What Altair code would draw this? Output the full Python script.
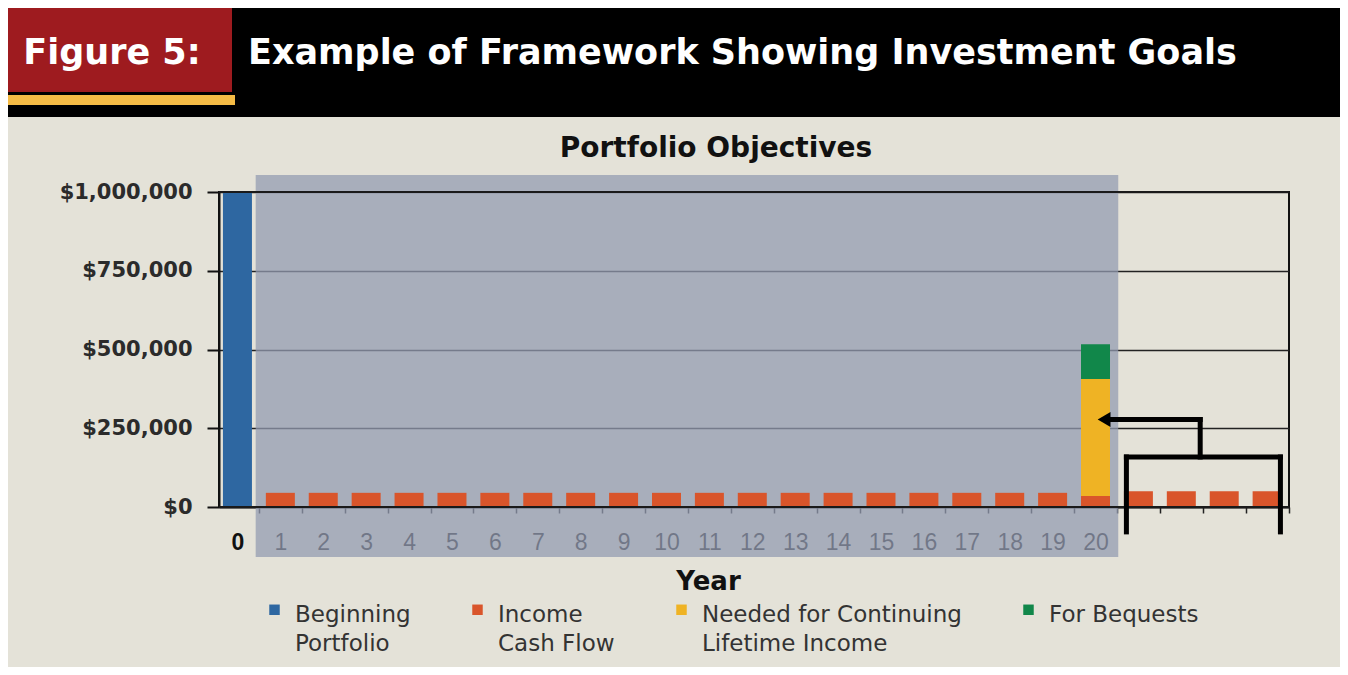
import altair as alt
import pandas as pd

# ---------------- data ----------------
years = list(range(25))
beginning_portfolio = [1000000] + [0] * 24
income_cash_flow = [0] + [45000] * 19 + [35000] + [50000] * 4
needed_lifetime_income = [0] * 20 + [371000] + [0] * 4
for_bequests = [0] * 20 + [111000] + [0] * 4

series_names = ["Beginning|Portfolio", "Income|Cash Flow",
                "Needed for Continuing|Lifetime Income", "For Bequests| "]
series_colors = ["#2e67a1", "#d9552b", "#efb324", "#11874a"]

y_ticks = [0, 250000, 500000, 750000, 1000000]
last_labelled_year = 20

shade_period = [0.425, 20.53]        # shaded working period (years 1-20)
bracket_years = [20.72, 24.31]       # bracket over years 21-24
bracket_mid_year = 22.44
bracket_low, bracket_high = -79000, 158700
arrow_level = 277800
arrow_end_year = 20.3
arrow_tip_year = 20.2

header_label = "Figure 5:"
header_title = "Example of Framework Showing Investment Goals"
chart_title = "Portfolio Objectives"

# ---------------- layout ----------------
W, H = 1070, 315
X_DOMAIN = [-0.43, 24.51]
STEP = W / (X_DOMAIN[1] - X_DOMAIN[0])
FONT = "DejaVu Sans"

rows = []
for i, yr in enumerate(years):
    for o, (name, vals) in enumerate(zip(series_names,
                                         [beginning_portfolio, income_cash_flow,
                                          needed_lifetime_income, for_bequests])):
        if vals[i] > 0:
            rows.append({"year": yr, "series": name, "value": vals[i], "order": o})
bars_df = pd.DataFrame(rows)

x_scale = alt.Scale(domain=X_DOMAIN, nice=False, zero=False, padding=0)
y_scale = alt.Scale(domain=[0, 1000000], nice=False, zero=False, padding=0)

# ticks sit on the boundaries between years; each label is shifted back half a step
x_axis = alt.Axis(
    values=[v + 0.5 for v in years],
    labelExpr=f"datum.value - 0.5 <= {last_labelled_year} ? format(datum.value - 0.5, 'd') : ''",
    labelOffset=-STEP / 2, labelFlush=False, labelOverlap=False, labelBound=False,
    labelFont="Liberation Sans", labelFontSize=23, labelColor="#111",
    labelFontWeight={"expr": "datum.value < 1 ? 'bold' : 'normal'"},
    labelPadding=18,
    tickSize=6, tickColor="#222", tickWidth=1.5,
    domainColor="#1a1a1a", domainWidth=2, grid=False,
    title="Year", titleFont=FONT, titleFontSize=26, titleFontWeight="bold",
    titleColor="#111", titleX=489, titleY=82, titleAlign="center",
    titleBaseline="alphabetic", titleAnchor="start",
)
y_axis = alt.Axis(
    values=y_ticks, format="$,.0f",
    tickSize=12, tickColor="#111", tickWidth=2,
    domainColor="#111", domainWidth=2,
    labelFont=FONT, labelFontSize=21, labelFontWeight="bold", labelColor="#2b2b2b",
    labelPadding=15,
    grid=True, gridColor="#222", gridWidth=1.5, title=None,
)


def X(field):
    return alt.X(field, scale=x_scale, axis=x_axis, title="Year")


def Y(field, **kw):
    return alt.Y(field, scale=y_scale, axis=y_axis, title=None, **kw)


one = pd.DataFrame({"k": [0]})

# header decorations
header_black = alt.Chart(one).mark_rect(color="#000000").encode(
    x=alt.value(-214), x2=alt.value(W + 59), y=alt.value(-184), y2=alt.value(-75))
header_red = alt.Chart(one).mark_rect(color="#9e1b1f").encode(
    x=alt.value(-214), x2=alt.value(13), y=alt.value(-184), y2=alt.value(-100))
header_yellow = alt.Chart(one).mark_rect(color="#f5bb45").encode(
    x=alt.value(-214), x2=alt.value(16), y=alt.value(-97), y2=alt.value(-87))
header_t1 = alt.Chart(pd.DataFrame({"t": [header_label]})).mark_text(
    font=FONT, fontSize=35, fontWeight="bold", color="white", align="center",
    baseline="alphabetic").encode(text="t:N", x=alt.value(-107), y=alt.value(-128))
header_t2 = alt.Chart(pd.DataFrame({"t": [header_title]})).mark_text(
    font=FONT, fontSize=35, fontWeight="bold", color="white", align="left",
    baseline="alphabetic").encode(text="t:N", x=alt.value(29), y=alt.value(-128))
title_text = alt.Chart(pd.DataFrame({"t": [chart_title]})).mark_text(
    font=FONT, fontSize=28, fontWeight="bold", color="#111", align="center",
    baseline="alphabetic").encode(text="t:N", x=alt.value(497), y=alt.value(-35))

# shaded period
shade = alt.Chart(pd.DataFrame({"start": [shade_period[0]], "end": [shade_period[1]]})).mark_rect(
    color="#939bb1", opacity=0.74).encode(
    x=X("start:Q"), x2="end:Q", y=alt.value(-17), y2=alt.value(H + 50))

# bars
bars = alt.Chart(bars_df).mark_bar(size=29, orient="vertical").encode(
    x=X("year:Q"),
    y=Y("value:Q", stack="zero"),
    color=alt.Color("series:N",
                    scale=alt.Scale(domain=series_names, range=series_colors),
                    legend=alt.Legend(
                        title=None, orient="none", legendX=44, legendY=400,
                        direction="horizontal",
                        symbolType="M-1,0.15H1V2.15H-1Z", symbolSize=110,
                        symbolStrokeWidth=0, labelFont=FONT, labelFontSize=23,
                        labelColor="#333", labelExpr="split(datum.label, '|')",
                        labelBaseline="top", labelLimit=500, columnPadding=55,
                        padding=0, labelOffset=9)),
    order=alt.Order("order:Q"),
)

# frame lines drawn above the shade
frame = alt.Chart(pd.DataFrame({"x0": [X_DOMAIN[0]] * 2, "x1": [X_DOMAIN[1]] * 2,
                                "lvl": [0, 1000000]})).mark_rule(
    color="#1a1a1a", strokeWidth=2).encode(x=X("x0:Q"), x2="x1:Q", y=Y("lvl:Q"))

# bracket and arrow
seg_df = pd.DataFrame({
    "xa": [bracket_years[0], bracket_years[1], bracket_years[0], bracket_mid_year, arrow_end_year],
    "xb": [bracket_years[0], bracket_years[1], bracket_years[1], bracket_mid_year, bracket_mid_year],
    "ya": [bracket_low, bracket_low, bracket_high, bracket_high, arrow_level],
    "yb": [bracket_high, bracket_high, bracket_high, arrow_level, arrow_level],
})
segments = alt.Chart(seg_df).mark_rule(color="#000", strokeWidth=5, strokeCap="square").encode(
    x=X("xa:Q"), x2="xb:Q", y=Y("ya:Q"), y2="yb:Q")
arrow_head = alt.Chart(pd.DataFrame({"ax": [arrow_tip_year], "ay": [arrow_level]})).mark_point(
    shape="triangle-left", filled=True, color="#000", size=220, opacity=1).encode(
    x=X("ax:Q"), y=Y("ay:Q"))

chart = alt.layer(
    header_black, header_red, header_yellow, header_t1, header_t2, title_text,
    shade, bars, frame, segments, arrow_head,
).properties(
    width=W, height=H,
    autosize=alt.AutoSizeParams(type="none"),
    padding={"left": 211, "top": 184, "right": 51, "bottom": 160},
).configure(
    background="#e4e2d8",
    style={"guide-label": {"lineHeight": 29}},
).configure_view(stroke="#111", strokeWidth=2)

chart.save("out.html", embed_options={"renderer": "svg", "actions": False})
